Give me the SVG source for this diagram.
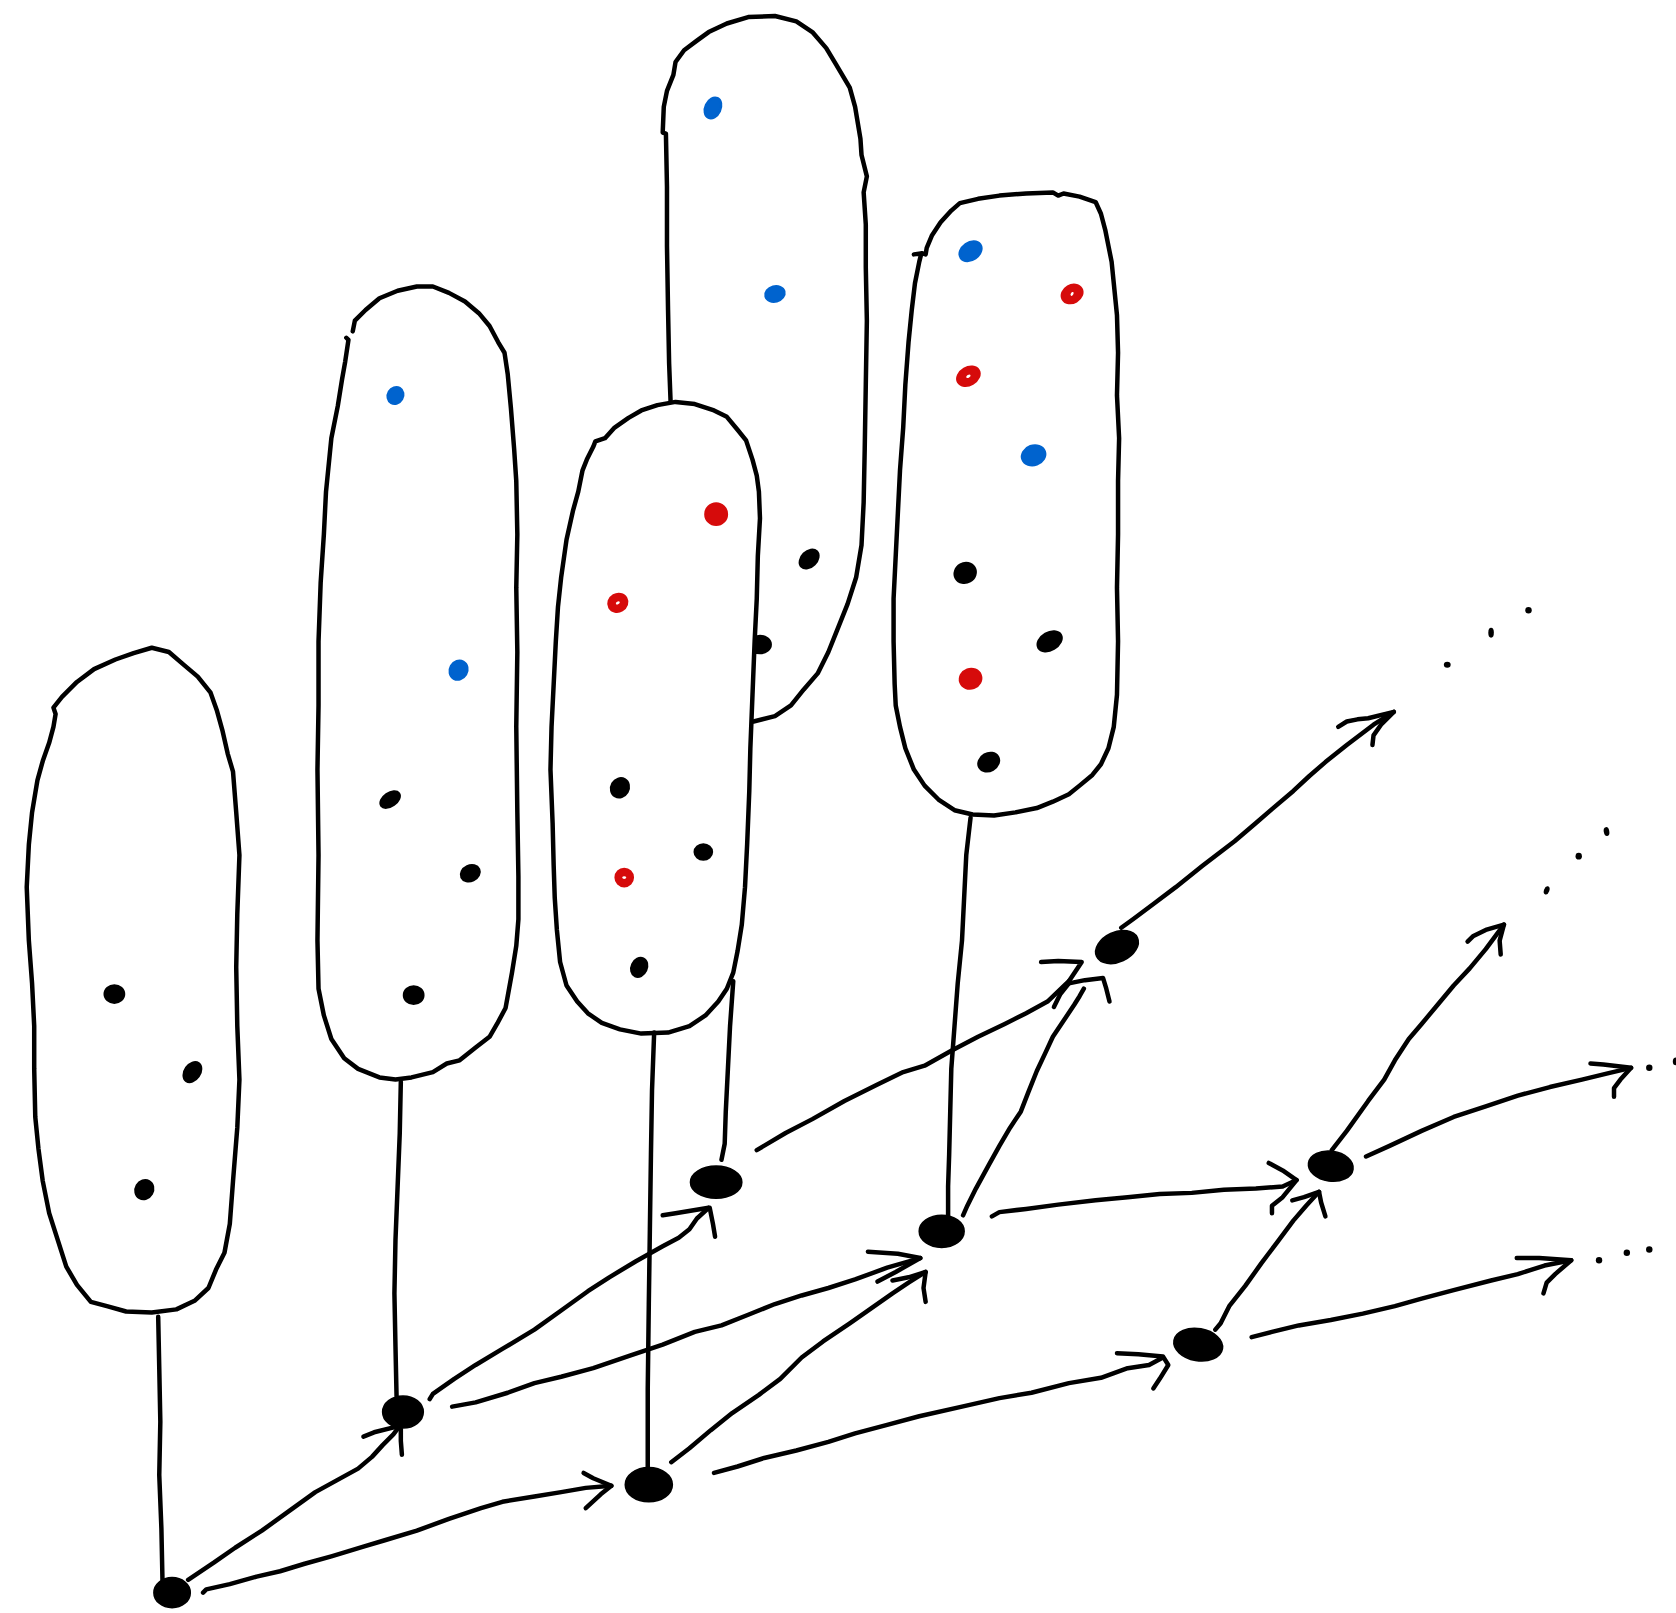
<svg xmlns="http://www.w3.org/2000/svg" width="1676" height="1613" viewBox="0 0 1676 1613">
<style>
.bl{fill:#fff;stroke:#000;stroke-width:4.2;stroke-linecap:round;stroke-linejoin:round}
.ln{fill:none;stroke:#000;stroke-width:4.2;stroke-linecap:round;stroke-linejoin:round}
.k{fill:#000}
.r{fill:#D60B0B}
.u{fill:#0063CE}
.w{fill:#fff}
.blob .k{stroke:#000;stroke-width:2.4}
.blob .r{stroke:#D60B0B;stroke-width:2.4}
.blob .u{stroke:#0063CE;stroke-width:2.4}
.node .k{stroke:#000;stroke-width:1.5}
</style>
<rect width="1676" height="1613" fill="#fff"/>
<g transform="scale(1.06888)">
<g id="blob1" class="blob">
<path class="bl" d="M52,668 L50,662 L58,652 L72,638 L88,626 L108,617 L125,611 L142,606 L158,610 L172,622 L185,633 L197,648 L203,665 L208,683 L213,705 L218,722 L221,760 L224,800 L222,855 L221,905 L222,960 L224,1010 L222,1055 L218,1105 L215,1145 L210,1172 L202,1188 L195,1205 L182,1217 L165,1225 L142,1228 L118,1227 L100,1222 L85,1218 L72,1202 L62,1185 L54,1160 L46,1135 L40,1105 L36,1075 L33,1045 L32,1000 L32,960 L30,920 L27,880 L25,830 L27,790 L30,760 L35,730 L40,712 L46,695 L50,680 L52,668"/>
<ellipse class="k" cx="107" cy="930" rx="9" ry="8"/>
<ellipse class="k" cx="180" cy="1003" rx="7" ry="10" transform="rotate(35 180 1003)"/>
<ellipse class="k" cx="135" cy="1113" rx="8" ry="9" transform="rotate(30 135 1113)"/>
</g>
<g id="blob2" class="blob">
<path class="bl" d="M330,310 L332,300 L342,290 L355,279 L372,272 L390,268 L405,268 L420,274 L435,282 L448,293 L458,305 L466,320 L472,330 L475,350 L478,382 L481,420 L483,450 L484,500 L483,550 L484,610 L483,680 L484,760 L485,820 L485,860 L483,885 L479,910 L473,943 L465,958 L458,970 L445,980 L430,992 L418,995 L405,1003 L385,1008 L370,1010 L355,1008 L335,1000 L322,990 L310,972 L303,950 L298,925 L297,880 L298,800 L297,720 L298,660 L298,600 L300,545 L303,500 L305,460 L310,410 L316,380 L320,355 L323,338 L326,318 L324,316"/>
<ellipse class="u" cx="370" cy="370" rx="7" ry="8" transform="rotate(30 370 370)"/>
<ellipse class="u" cx="429" cy="627" rx="8" ry="9" transform="rotate(30 429 627)"/>
<ellipse class="k" cx="365" cy="748" rx="10" ry="6" transform="rotate(-35 365 748)"/>
<ellipse class="k" cx="440" cy="817" rx="9" ry="7" transform="rotate(-25 440 817)"/>
<ellipse class="k" cx="387" cy="931" rx="9" ry="8"/>
</g>
<g id="blob3" class="blob">
<path class="bl" d="M628,392 L626,340 L625,290 L624,230 L624,175 L623,125 L620,124 L621,100 L624,85 L630,70 L632,58 L640,47 L652,38 L663,30 L680,22 L700,16 L725,15 L745,20 L760,30 L773,45 L782,60 L795,82 L800,100 L805,130 L806,145 L811,165 L808,180 L810,210 L810,250 L811,300 L810,360 L809,420 L808,470 L806,510 L801,540 L793,565 L783,590 L775,610 L765,630 L752,645 L740,660 L725,670 L705,675 L690,680 L650,600 L640,450 Z"/>
<ellipse class="u" cx="667" cy="101" rx="7" ry="10" transform="rotate(25 667 101)"/>
<ellipse class="u" cx="725" cy="275" rx="9" ry="7" transform="rotate(-15 725 275)"/>
<ellipse class="k" cx="757" cy="523" rx="7" ry="10" transform="rotate(45 757 523)"/>
<ellipse class="k" cx="711" cy="603" rx="10" ry="8"/>
</g>
<g id="blob4" class="blob">
<path class="bl" d="M555,418 L557,413 L566,410 L575,400 L588,391 L600,384 L615,379 L632,376 L650,378 L668,384 L680,390 L690,402 L698,412 L704,430 L708,445 L710,460 L711,485 L709,520 L708,560 L706,600 L704,650 L702,700 L701,740 L699,790 L697,830 L694,865 L690,890 L686,910 L680,925 L672,937 L660,950 L645,960 L625,966 L600,967 L580,963 L563,957 L550,948 L540,937 L530,922 L524,900 L521,870 L519,840 L518,810 L517,770 L515,720 L516,680 L518,640 L520,600 L522,568 L525,540 L530,505 L536,478 L541,460 L545,440 L549,430 Z"/>
<ellipse class="r" cx="670" cy="481" rx="10" ry="10"/>
<ellipse class="r" cx="578" cy="564" rx="9" ry="8" transform="rotate(-30 578 564)"/>
<ellipse class="w" cx="578" cy="564" rx="2" ry="1.3" transform="rotate(-30 578 564)"/>
<ellipse class="k" cx="580" cy="737" rx="8" ry="9" transform="rotate(30 580 737)"/>
<ellipse class="k" cx="658" cy="797" rx="8" ry="7"/>
<ellipse class="r" cx="584" cy="821" rx="8" ry="8"/>
<ellipse class="w" cx="584" cy="821" rx="1.8" ry="1.3"/>
<ellipse class="k" cx="598" cy="905" rx="7" ry="9" transform="rotate(25 598 905)"/>
</g>
<g id="blob5" class="blob">
<path class="bl" d="M855,238 L863,237 L866,238 L867,232 L872,220 L880,208 L890,197 L898,190 L915,186 L935,183 L960,181 L985,180 L990,183 L995,181 L1010,184 L1025,189 L1030,200 L1034,215 L1037,230 L1040,245 L1042,265 L1045,295 L1046,330 L1045,370 L1047,410 L1046,450 L1046,500 L1045,550 L1046,600 L1045,650 L1042,680 L1037,700 L1030,715 L1022,725 L1010,735 L1000,743 L985,750 L970,756 L950,760 L930,763 L910,762 L893,758 L878,748 L865,735 L855,720 L847,700 L842,680 L838,660 L837,640 L836,600 L836,560 L838,520 L840,480 L842,440 L845,400 L847,360 L850,320 L853,290 L856,265 L860,245 L862,237"/>
<ellipse class="u" cx="908" cy="235" rx="11" ry="8" transform="rotate(-35 908 235)"/>
<ellipse class="r" cx="1003" cy="275" rx="10" ry="8" transform="rotate(-30 1003 275)"/>
<ellipse class="w" cx="1003" cy="275" rx="2" ry="1.2" transform="rotate(-60 1003 275)"/>
<ellipse class="r" cx="906" cy="352" rx="11" ry="8" transform="rotate(-30 906 352)"/>
<ellipse class="w" cx="906" cy="352" rx="2.2" ry="1.3" transform="rotate(-30 906 352)"/>
<ellipse class="u" cx="967" cy="426" rx="11" ry="9" transform="rotate(-20 967 426)"/>
<ellipse class="k" cx="903" cy="536" rx="10" ry="9" transform="rotate(-30 903 536)"/>
<ellipse class="k" cx="982" cy="600" rx="12" ry="8" transform="rotate(-30 982 600)"/>
<ellipse class="r" cx="908" cy="635" rx="10" ry="9" transform="rotate(-20 908 635)"/>
<ellipse class="k" cx="925" cy="713" rx="10" ry="8" transform="rotate(-30 925 713)"/>
</g>
<g id="connectors">
<path class="ln" d="M148,1232 L149,1280 L150,1330 L149,1380 L151,1430 L152,1478"/>
<path class="ln" d="M375,1012 L374,1060 L372,1110 L370,1160 L369,1210 L370,1260 L371,1306"/>
<path class="ln" d="M686,918 L683,960 L681,1000 L679,1040 L678,1070 L675,1085"/>
<path class="ln" d="M612,966 L610,1020 L609,1080 L608,1150 L607,1220 L606,1300 L606,1376"/>
<path class="ln" d="M908,765 L904,800 L902,840 L900,880 L896,920 L893,960 L890,1000 L889,1040 L888,1080 L887,1110 L887,1138"/>
<path class="ln" d="M190,1490 L193,1487 L215,1482 L240,1475 L262,1470 L285,1463 L310,1456 L340,1447 L360,1441 L390,1432 L420,1421 L450,1411 L470,1405 L500,1400 L525,1396 L548,1392 L572,1390"/>
<path class="ln" d="M546,1378 L555,1383 L572,1390 L562,1398 L548,1411"/>
<path class="ln" d="M176,1478 L200,1462 L220,1448 L245,1432 L270,1414 L295,1396 L315,1385 L335,1374 L348,1363 L358,1352 L368,1342 L374,1334"/>
<path class="ln" d="M340,1344 L350,1340 L374,1334 M375,1337 L375,1348 L376,1361"/>
<path class="ln" d="M402,1309 L405,1304 L425,1290 L445,1277 L470,1262 L500,1244 L525,1226 L550,1208 L570,1195 L595,1180 L620,1166 L635,1158 L645,1150 L652,1140 L663,1130"/>
<path class="ln" d="M620,1137 L632,1135 L663,1130 M664,1130 L667,1145 L669,1157"/>
<path class="ln" d="M423,1316 L445,1312 L475,1303 L500,1294 L525,1288 L555,1280 L590,1268 L620,1258 L650,1246 L675,1240 L700,1230 L725,1220 L750,1212 L775,1205 L800,1197 L830,1186 L861,1177"/>
<path class="ln" d="M812,1171 L840,1173 L861,1177 L838,1190 L821,1199"/>
<path class="ln" d="M628,1368 L645,1355 L665,1338 L685,1322 L710,1305 L730,1290 L750,1270 L770,1255 L795,1238 L815,1224 L835,1210 L850,1200 L866,1190"/>
<path class="ln" d="M835,1198 L850,1195 L866,1190 L864,1205 L866,1218"/>
<path class="ln" d="M668,1378 L690,1372 L715,1364 L745,1357 L775,1349 L800,1341 L830,1333 L860,1325 L900,1316 L935,1308 L965,1303 L1000,1294 L1030,1289 L1055,1280 L1075,1277 L1088,1270"/>
<path class="ln" d="M1045,1266 L1065,1267 L1088,1269 L1093,1277 L1085,1290 L1079,1299"/>
<path class="ln" d="M708,1076 L735,1060 L760,1047 L790,1030 L820,1015 L845,1003 L865,997 L890,983 L915,970 L940,958 L960,948 L980,937 L1000,918"/>
<path class="ln" d="M974,900 L990,899 L1012,900 L1000,918 M986,942 L992,930 L1000,920"/>
<path class="ln" d="M901,1137 L905,1128 L913,1112 L925,1090 L935,1072 L945,1055 L955,1040 L962,1022 L970,1002 L978,985 L985,970 L995,955 L1005,940 L1010,932 L1014,925"/>
<path class="ln" d="M1000,920 L1015,917 L1032,915 L1035,925 L1038,937"/>
<path class="ln" d="M928,1138 L935,1134 L960,1131 L990,1127 L1025,1123 L1055,1120 L1085,1117 L1115,1116 L1145,1113 L1175,1112 L1200,1110 L1213,1104"/>
<path class="ln" d="M1187,1088 L1200,1095 L1213,1104 L1200,1120 L1190,1128 L1190,1135"/>
<path class="ln" d="M1137,1244 L1142,1238 L1150,1222 L1165,1203 L1180,1182 L1195,1162 L1210,1142 L1222,1128 L1234,1115"/>
<path class="ln" d="M1209,1123 L1220,1120 L1234,1115 L1236,1125 L1240,1138"/>
<path class="ln" d="M1171,1251 L1190,1246 L1215,1240 L1245,1235 L1275,1229 L1305,1222 L1330,1215 L1360,1207 L1395,1198 L1420,1192 L1445,1184 L1470,1179"/>
<path class="ln" d="M1419,1177 L1440,1177 L1470,1179 L1455,1192 L1447,1200 L1444,1210"/>
<path class="ln" d="M1049,868 L1060,860 L1080,845 L1100,830 L1125,810 L1155,787 L1175,770 L1190,757 L1210,740 L1225,726 L1240,713 L1260,697 L1285,678 L1304,666"/>
<path class="ln" d="M1252,680 L1260,675 L1270,673 L1280,672 L1304,666 L1292,678 L1285,688 L1284,697"/>
<path class="ln" d="M1246,1076 L1260,1058 L1280,1030 L1295,1010 L1305,992 L1318,972 L1330,958 L1345,940 L1360,922 L1375,906 L1390,888 L1407,865"/>
<path class="ln" d="M1373,881 L1378,876 L1390,870 L1407,865 L1403,880 L1404,893"/>
<path class="ln" d="M1278,1082 L1300,1072 L1330,1058 L1360,1045 L1390,1035 L1420,1025 L1450,1017 L1480,1010 L1505,1004 L1526,999"/>
<path class="ln" d="M1488,995 L1500,996 L1526,999 L1516,1010 L1510,1018 L1510,1026"/>
</g>
<g id="ellipses">
<ellipse class="k" cx="1354" cy="622" rx="3.2" ry="2.8"/>
<ellipse class="k" cx="1395" cy="592" rx="2.6" ry="4.6"/>
<ellipse class="k" cx="1430" cy="571" rx="3" ry="3"/>
<ellipse class="k" cx="1447" cy="833" rx="2.5" ry="4" transform="rotate(20 1447 833)"/>
<ellipse class="k" cx="1477" cy="801" rx="3" ry="3.2"/>
<ellipse class="k" cx="1503" cy="778" rx="2.6" ry="4.2" transform="rotate(-10 1503 778)"/>
<ellipse class="k" cx="1543" cy="999" rx="3" ry="3"/>
<ellipse class="k" cx="1568" cy="993" rx="3" ry="3.6"/>
<ellipse class="k" cx="1496" cy="1179" rx="3" ry="3"/>
<ellipse class="k" cx="1522" cy="1172" rx="3" ry="3"/>
<ellipse class="k" cx="1543" cy="1169" rx="3" ry="3"/>
</g>
<g id="node-a" class="node"><ellipse class="k" cx="161" cy="1490" rx="17" ry="14"/></g>
<g id="node-b" class="node"><ellipse class="k" cx="377" cy="1321" rx="19" ry="15"/></g>
<g id="node-c" class="node"><ellipse class="k" cx="670" cy="1106" rx="24" ry="15"/></g>
<g id="node-d" class="node"><ellipse class="k" cx="607" cy="1389" rx="22" ry="16"/></g>
<g id="node-e" class="node"><ellipse class="k" cx="881" cy="1152" rx="21" ry="15"/></g>
<g id="node-f" class="node"><ellipse class="k" cx="1045" cy="886" rx="21" ry="14" transform="rotate(-25 1045 886)"/></g>
<g id="node-g" class="node"><ellipse class="k" cx="1121" cy="1258" rx="23" ry="15" transform="rotate(10 1121 1258)"/></g>
<g id="node-h" class="node"><ellipse class="k" cx="1245" cy="1091" rx="21" ry="14" transform="rotate(8 1245 1091)"/></g>
</g>
</svg>
